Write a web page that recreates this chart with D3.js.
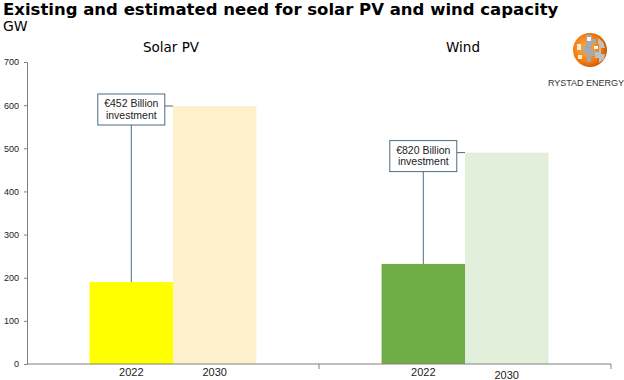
<!DOCTYPE html>
<html><head><meta charset="utf-8">
<script src="https://cdn.jsdelivr.net/npm/d3@7"></script>
<style>body{margin:0;background:#fff}svg{display:block}</style>
</head><body>
<svg id="c" width="624" height="380"></svg>
<script>
const groups = ["Solar PV", "Wind"];
const years = ["2022", "2030"];
const solarValues = [190, 598];
const windValues = [232, 490];
const yTicks = [0, 100, 200, 300, 400, 500, 600, 700];
const notes = ["€452 Billion|investment", "€820 Billion|investment"];
const barColors = [["#FFFF00", "#FFF0CC"], ["#70AD47", "#E2EFDA"]];
const titleText = "Existing and estimated need for solar PV and wind capacity";
const unitText = "GW";

const svg = d3.select("#c");
const m = {l: 27, r: 611, t: 62, b: 364};
const y = d3.scaleLinear().domain([0, 700]).range([m.b, m.t]);
const x0 = d3.scaleBand().domain(groups).range([m.l, m.r]).paddingInner(0).paddingOuter(0);
const x1 = d3.scaleBand().domain(years).range([0, x0.bandwidth()]).paddingOuter(0.75).paddingInner(0);
const values = [solarValues, windValues];

// title
svg.append("text").attr("x", 3).attr("y", 15).attr("font-family", "DejaVu Sans")
  .attr("font-weight", "bold").attr("font-size", 16.5).attr("fill", "#000").text(titleText);
svg.append("text").attr("x", 3).attr("y", 31).attr("font-family", "DejaVu Sans")
  .attr("font-size", 14).attr("fill", "#000").text(unitText);

// group titles
svg.selectAll("text.gt").data(groups).join("text").attr("class", "gt")
  .attr("x", d => x0(d) + x0.bandwidth() / 2 - 2).attr("y", 52)
  .attr("text-anchor", "middle").attr("font-family", "DejaVu Sans").attr("font-size", 13.5)
  .attr("fill", "#000").text(d => d);

// bars
groups.forEach((g, gi) => {
  const gg = svg.append("g").attr("transform", `translate(${x0(g)},0)`);
  gg.selectAll("rect").data(values[gi]).join("rect")
    .attr("x", (d, i) => x1(years[i])).attr("width", x1.bandwidth())
    .attr("y", d => y(d)).attr("height", d => y(0) - y(d))
    .attr("fill", (d, i) => barColors[gi][i]);
  gg.selectAll("text").data(years).join("text")
    .attr("x", d => x1(d) + x1.bandwidth() / 2).attr("y", (d, i) => 376 + (gi === 1 && i === 1 ? 3 : 0))
    .attr("text-anchor", "middle").attr("font-family", "Liberation Sans").attr("font-size", 11)
    .attr("fill", "#222").text(d => d);

  // annotation
  const v = values[gi];
  const cx = x1(years[0]) + x1.bandwidth() / 2;
  const bw = 67, bh = 31;
  const by = y(v[1]) - 12;
  const lineCol = "#4E6B7C";
  gg.append("line").attr("x1", cx).attr("x2", cx).attr("y1", by + bh).attr("y2", y(v[0]))
    .attr("stroke", lineCol).attr("stroke-width", 1);
  gg.append("line").attr("x1", cx + bw / 2).attr("x2", x1(years[1])).attr("y1", y(v[1])).attr("y2", y(v[1]))
    .attr("stroke", lineCol).attr("stroke-width", 1);
  gg.append("rect").attr("x", cx - bw / 2).attr("y", by).attr("width", bw).attr("height", bh)
    .attr("fill", "#fff").attr("stroke", lineCol).attr("stroke-width", 1);
  const lines = notes[gi].split("|");
  gg.selectAll("text.n").data(lines).join("text").attr("class", "n")
    .attr("x", cx).attr("y", (d, i) => by + 13 + i * 11.5).attr("text-anchor", "middle")
    .attr("font-family", "Liberation Sans").attr("font-size", 10.5).attr("fill", "#222").text(d => d);
});

// y axis
const ya = svg.append("g").attr("transform", `translate(${m.l},0)`)
  .call(d3.axisLeft(y).tickValues(yTicks).tickSize(3).tickPadding(5));
ya.select(".domain").attr("stroke", "#808080");
ya.selectAll(".tick line").attr("stroke", "#808080");
ya.selectAll(".tick text").attr("font-family", "Liberation Sans").attr("font-size", 9).attr("fill", "#222");

// x axis line and separators
const xa = svg.append("g");
xa.append("line").attr("x1", m.l).attr("x2", m.r).attr("y1", y(0)).attr("y2", y(0)).attr("stroke", "#808080");
const seps = [x0(groups[1]), m.r];
xa.selectAll("line.s").data(seps).join("line").attr("class", "s")
  .attr("x1", d => d).attr("x2", d => d).attr("y1", y(0)).attr("y2", y(0) + 5).attr("stroke", "#808080");

// logo
const logo = svg.append("g").attr("transform", "translate(590,50)");
const defs = svg.append("defs");
const rg = defs.append("radialGradient").attr("id", "og").attr("cx", "40%").attr("cy", "45%").attr("r", "60%");
rg.append("stop").attr("offset", "0%").attr("stop-color", "#FFB340");
rg.append("stop").attr("offset", "70%").attr("stop-color", "#F07A10");
rg.append("stop").attr("offset", "100%").attr("stop-color", "#C85A08");
logo.append("circle").attr("r", 17).attr("fill", "url(#og)");
const gray = "#A8A8A8";
logo.append("path").attr("d", "M-4,-15 L2,-15 L2,-11 L6,-11 L6,-6 L2,-6 L2,0 L6,0 L6,6 L1,6 L1,12 L-3,12 L-3,4 L-7,4 L-7,-4 L-4,-4 Z").attr("fill", gray);
logo.append("path").attr("d", "M8,-12 L13,-8 L15,-2 L11,-2 L11,4 L15,4 L14,9 L9,13 L9,8 L5,8 L5,2 L9,2 L9,-6 L8,-6 Z").attr("fill", "#C0C0C0");
logo.append("path").attr("d", "M-13,-6 L-9,-6 L-9,0 L-13,0 Z M-12,5 L-8,5 L-8,9 L-12,9 Z").attr("fill", "#fff").attr("opacity", 0.8);
logo.append("path").attr("d", "M-3,-13 L1,-13 L1,-9 L-3,-9 Z M4,-4 L8,-4 L8,-1 L4,-1 Z").attr("fill", "#fff").attr("opacity", 0.9);
svg.append("text").attr("x", 586).attr("y", 86).attr("text-anchor", "middle").attr("font-family", "Liberation Sans Narrow, Liberation Sans")
  .attr("font-size", 9).attr("fill", "#333").text("RYSTAD ENERGY");
</script>
</body></html>
